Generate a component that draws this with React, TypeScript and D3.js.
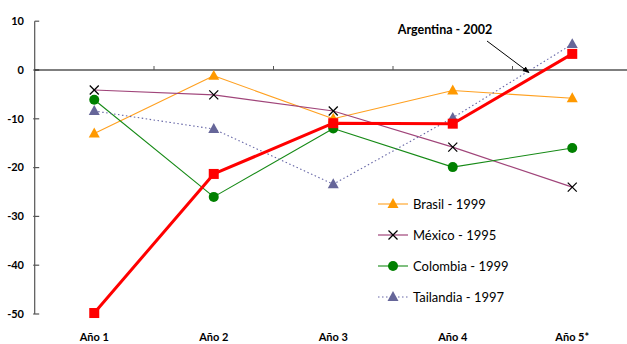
import React from "react";
import * as d3 from "d3";

const categories = ["Año 1", "Año 2", "Año 3", "Año 4", "Año 5*"];
const yTicks = [10, 0, -10, -20, -30, -40, -50];

const brasil = [-13, -1.2, -10, -4.2, -5.8];
const mexico = [-4.1, -5.1, -8.4, -15.8, -24];
const colombia = [-6.1, -26, -12, -19.9, -16];
const tailandia = [-8.4, -12.1, -23.4, -9.8, 5.3];
const argentina = [-49.8, -21.3, -10.9, -11, 3.3];

const W = 627;
const H = 344;
const FONT = "Lato, 'Open Sans', sans-serif";

type Marker = "triangle" | "x" | "circle" | "square";

interface Series {
  name: string;
  values: number[];
  color: string;
  markerColor: string;
  width: number;
  dash?: string;
  marker: Marker;
  size: number;
}

const series: Series[] = [
  { name: "Brasil - 1999", values: brasil, color: "#FFA020", markerColor: "#FF9900", width: 1.1, marker: "triangle", size: 11 },
  { name: "México - 1995", values: mexico, color: "#A0457A", markerColor: "#000000", width: 1.2, marker: "x", size: 9 },
  { name: "Colombia - 1999", values: colombia, color: "#168A16", markerColor: "#008000", width: 1.1, marker: "circle", size: 10 },
  { name: "Tailandia - 1997", values: tailandia, color: "#6666A6", markerColor: "#666699", width: 1.1, dash: "1.5,2.5", marker: "triangle", size: 11 },
  { name: "Argentina - 2002", values: argentina, color: "#FF0000", markerColor: "#FF0000", width: 3, marker: "square", size: 10 },
];

const legendSeries = series.slice(0, 4);

function MarkerShape({ type, x, y, color, size }: { type: Marker; x: number; y: number; color: string; size: number }) {
  if (type === "triangle") {
    const h = size * 0.9;
    const p = `${x},${y - h * 0.6} ${x + size / 2},${y + h * 0.4} ${x - size / 2},${y + h * 0.4}`;
    return <polygon points={p} fill={color} />;
  }
  if (type === "x") {
    const s = size / 2;
    return (
      <g stroke={color} strokeWidth={1.2}>
        <line x1={x - s} y1={y - s} x2={x + s} y2={y + s} />
        <line x1={x - s} y1={y + s} x2={x + s} y2={y - s} />
      </g>
    );
  }
  if (type === "circle") {
    return <circle cx={x} cy={y} r={size / 2} fill={color} />;
  }
  return <rect x={x - size / 2} y={y - size / 2} width={size} height={size} fill={color} />;
}

export default function App() {
  const x = d3.scaleBand<string>().domain(categories).range([34.5, 632]);
  const y = d3.scaleLinear().domain([-50, 10]).range([314, 21.2]);
  const cx = (c: string) => (x(c) ?? 0) + x.bandwidth() / 2;
  const line = d3
    .line<number>()
    .x((_, i) => cx(categories[i]))
    .y((d) => y(d));

  const axisX = 34.7;
  const zeroY = y(0);
  const boundaries = categories.slice(1).map((c) => x(c) ?? 0);

  const legendX = 378;
  const legendY0 = 204;
  const legendStep = 31;

  return (
    <svg
      width={W}
      height={H}
      style={{ position: "absolute", left: 0, top: 0, background: "#fff" }}
      fontFamily={FONT}
    >
      <rect width={W} height={H} fill="#fff" />

      {/* value axis */}
      <line x1={axisX} y1={y(10)} x2={axisX} y2={y(-50)} stroke="#555" strokeWidth={1.2} />
      {yTicks.map((t) => (
        <g key={t}>
          <line x1={t === 10 ? axisX : axisX - 1.5} x2={axisX + 4.5} y1={y(t)} y2={y(t)} stroke="#555" strokeWidth={1.2} />
          <text x={24} y={y(t)} dy="0.35em" textAnchor="end" fontSize={11} fontWeight={700} fill="#000">
            {t}
          </text>
        </g>
      ))}

      {/* category axis at zero */}
      <line x1={axisX} x2={W} y1={zeroY} y2={zeroY} stroke="#000" strokeWidth={1.2} />
      {boundaries.map((b, i) => (
        <line key={i} x1={b} x2={b} y1={zeroY - 4} y2={zeroY} stroke="#555" strokeWidth={1} />
      ))}
      {categories.map((c) => (
        <text key={c} x={cx(c)} y={341} textAnchor="middle" fontSize={11} fontWeight={700} fill="#000">
          {c}
        </text>
      ))}

      {/* series lines */}
      {series.map((s) => (
        <path
          key={s.name}
          d={line(s.values) ?? ""}
          fill="none"
          stroke={s.color}
          strokeWidth={s.width}
          strokeDasharray={s.dash}
          strokeLinejoin="round"
        />
      ))}
      {series.map((s) => (
        <g key={s.name + "-m"}>
          {s.values.map((v, i) => (
            <MarkerShape key={i} type={s.marker} x={cx(categories[i])} y={y(v)} color={s.markerColor} size={s.size} />
          ))}
        </g>
      ))}

      {/* Argentina callout */}
      <defs>
        <marker id="arrowHead" viewBox="0 0 10 10" refX="9" refY="5" markerWidth="7" markerHeight="7" orient="auto">
          <path d="M0,1 L10,5 L0,9 Z" fill="#000" />
        </marker>
      </defs>
      <text x={445} y={34} textAnchor="middle" fontSize={12.5} fontWeight={700} fill="#000">
        Argentina - 2002
      </text>
      <line x1={487} y1={41} x2={529} y2={72.5} stroke="#000" strokeWidth={1} markerEnd="url(#arrowHead)" />

      {/* legend */}
      {legendSeries.map((s, i) => {
        const ly = legendY0 + i * legendStep;
        return (
          <g key={s.name}>
            <line
              x1={legendX}
              x2={legendX + 30}
              y1={ly}
              y2={ly}
              stroke={s.color}
              strokeWidth={s.width}
              strokeDasharray={s.dash}
            />
            <MarkerShape type={s.marker} x={legendX + 15} y={ly} color={s.markerColor} size={s.size} />
            <text x={legendX + 35} y={ly} dy="0.36em" fontSize={13} fill="#000">
              {s.name}
            </text>
          </g>
        );
      })}
    </svg>
  );
}
